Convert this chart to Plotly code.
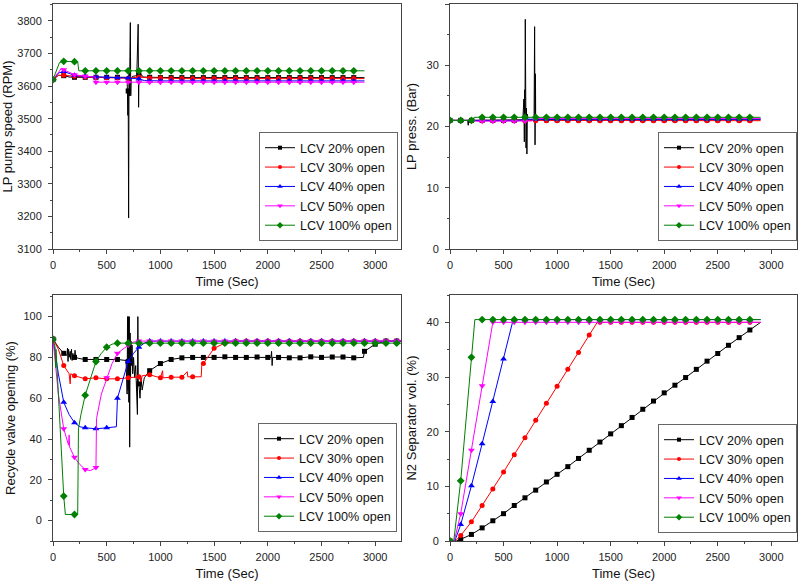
import plotly.graph_objects as go

FONT = "Arial, 'Liberation Sans', sans-serif"

series_names = ["LCV 20% open", "LCV 30% open", "LCV 40% open", "LCV 50% open", "LCV 100% open"]
colors = ["#000000", "#FF0000", "#0000FF", "#FF00FF", "#008000"]
symbols = ["square", "circle", "triangle-up", "triangle-down", "diamond"]
msizes = [5, 5, 6, 6, 6]

# ---------------- sampling times (sec) ----------------
time_a = [0, 100, 200, 300, 400, 500, 600, 700, 800, 900, 1000, 1100, 1200, 1300, 1400,
          1500, 1600, 1700, 1800, 1900, 2000, 2100, 2200, 2300, 2400, 2500, 2600, 2700, 2800, 2900]
time_c = [0, 100, 200, 300, 400, 500, 600, 700, 800, 900, 1000, 1100, 1200, 1300, 1400,
          1500, 1600, 1700, 1800, 1900, 2000, 2100, 2200, 2300, 2400, 2500, 2600, 2700, 2800, 2900,
          3000, 3100, 3200]

# ---------------- LP pump speed (RPM) ----------------
speed_20 = [3620, 3632, 3627, 3627, 3627, 3627, 3627, 3585, 3634, 3627, 3626, 3626, 3626, 3626, 3626,
            3626, 3626, 3626, 3626, 3626, 3626, 3626, 3626, 3626, 3626, 3626, 3626, 3626, 3626, 3626]
speed_30 = [3620, 3633, 3630, 3628, 3627, 3626, 3625, 3624, 3628, 3625, 3625, 3623, 3623, 3623, 3623,
            3623, 3623, 3623, 3623, 3623, 3623, 3623, 3623, 3623, 3623, 3623, 3623, 3623, 3623, 3623]
speed_40 = [3620, 3645, 3633, 3630, 3628, 3627, 3626, 3625, 3622, 3616, 3616, 3616, 3616, 3616, 3616,
            3616, 3616, 3616, 3616, 3616, 3616, 3616, 3616, 3616, 3616, 3616, 3616, 3616, 3616, 3616]
speed_50 = [3620, 3650, 3635, 3630, 3612, 3612, 3612, 3612, 3612, 3612, 3612, 3612, 3612, 3612, 3612,
            3612, 3612, 3612, 3612, 3612, 3612, 3612, 3612, 3612, 3612, 3612, 3612, 3612, 3612, 3612]
speed_100 = [3620, 3676, 3675, 3647, 3647, 3647, 3647, 3647, 3647, 3647, 3647, 3647, 3647, 3647, 3647,
             3647, 3647, 3647, 3647, 3647, 3647, 3647, 3647, 3647, 3647, 3647, 3647, 3647, 3647, 3647]
speed_20_t = [50, 150, 690, 697, 704, 708, 712, 716, 720, 724, 728, 740, 780, 793, 797, 810, 840]
speed_20_v = [3633, 3628, 3627, 3510, 3195, 3640, 3570, 3690, 3795, 3570, 3620, 3630, 3632, 3790, 3535, 3640, 3628]
speed_30_t = [50]
speed_30_v = [3633]
speed_40_t = [50, 850]
speed_40_v = [3640, 3617]
speed_50_t = [80, 395]
speed_50_v = [3655, 3628]
speed_100_t = [60, 230, 240]
speed_100_v = [3672, 3675, 3647]

# ---------------- LP pressure (Bar) ----------------
press_20 = [21.0, 21.0, 21.0, 21.0, 21.0, 21.0, 21.0, 21.1, 21.2, 21.1, 21.1, 21.1, 21.1, 21.1, 21.1,
            21.1, 21.1, 21.1, 21.1, 21.1, 21.1, 21.1, 21.1, 21.1, 21.1, 21.1, 21.1, 21.1, 21.1, 21.1]
press_30 = [21.0, 21.0, 21.0, 20.95, 20.95, 20.95, 20.95, 20.95, 20.95, 20.95, 20.95, 20.95, 20.95, 20.95, 20.95,
            20.95, 20.95, 20.95, 20.95, 20.95, 20.95, 20.95, 20.95, 20.95, 20.95, 20.95, 20.95, 20.95, 20.95, 20.95]
press_40 = [21.0, 21.0, 21.0, 21.0, 21.0, 21.0, 21.0, 21.2, 21.2, 21.2, 21.2, 21.2, 21.2, 21.2, 21.2,
            21.2, 21.2, 21.2, 21.2, 21.2, 21.2, 21.2, 21.2, 21.2, 21.2, 21.2, 21.2, 21.2, 21.2, 21.2]
press_50 = [21.0, 21.0, 21.0, 20.85, 20.85, 20.85, 20.85, 20.9, 21.3, 21.3, 21.3, 21.3, 21.3, 21.3, 21.3,
            21.3, 21.3, 21.3, 21.3, 21.3, 21.3, 21.3, 21.3, 21.3, 21.3, 21.3, 21.3, 21.3, 21.3, 21.3]
press_100 = [21.0, 21.0, 21.0, 21.5, 21.5, 21.5, 21.5, 21.5, 21.5, 21.5, 21.5, 21.5, 21.5, 21.5, 21.5,
             21.5, 21.5, 21.5, 21.5, 21.5, 21.5, 21.5, 21.5, 21.5, 21.5, 21.5, 21.5, 21.5, 21.5, 21.5]
press_20_t = [165, 170, 175, 680, 690, 694, 697, 703, 706, 710, 714, 718, 722, 726, 785, 790, 794, 798, 803]
press_20_v = [21.0, 20.2, 21.0, 21.1, 24.5, 17.5, 26.0, 37.5, 19.0, 16.5, 23.0, 15.5, 22.0, 21.1, 21.1, 36.3, 17.0, 28.6, 21.2]
press_30_t = []
press_30_v = []
press_40_t = [650]
press_40_v = [21.0]
press_50_t = [250, 760]
press_50_v = [20.85, 20.9]
press_100_t = [220, 225]
press_100_v = [21.0, 21.5]

# ---------------- Recycle valve opening (%) ----------------
valve_20 = [89, 82, 80, 79, 79, 79, 79, 78, 67, 73.5, 77, 79, 79.8, 80, 80,
            80, 80.3, 80, 80, 80.2, 80, 80, 79.8, 79.8, 80.3, 80, 80.2, 80.2, 79.8, 83,
            86.5, 88, 88]
valve_30 = [89, 76, 71, 69.5, 70, 69.5, 69.5, 70, 70.5, 71.5, 70, 70.3, 70.3, 70.5, 77,
            84.5, 87, 88, 88, 88, 88, 88, 88, 88, 88, 88, 88, 88, 88, 88,
            88, 88, 88]
valve_40 = [89, 58, 48, 45.5, 45, 45.5, 60, 78, 85, 88, 88, 88, 88, 88, 88,
            88, 88, 88, 88, 88, 88, 88, 88, 88, 88, 88, 88, 88, 88, 88,
            88, 88, 88]
valve_50 = [89, 45, 31, 25, 26, 70, 82, 86, 88, 88, 88, 88, 88, 88, 88,
            88, 88, 88, 88, 88, 88, 88, 88, 88, 88, 88, 88, 88, 88, 88,
            88, 88, 88]
valve_100 = [89, 12, 3, 61.5, 78, 85, 87, 87, 87, 87, 87, 87, 87, 87, 87,
             87, 87, 87, 87, 87, 87, 87, 87, 87, 87, 87, 87, 87, 87, 87,
             87, 87, 87]
valve_20_t = [50, 130, 135, 140, 145, 150, 160, 165, 172, 178, 185, 195, 205, 212, 240,
              680, 690, 694, 698, 702, 706, 710, 714, 718, 722, 726, 730, 736, 742, 750, 760, 770, 780, 786, 790, 794,
              810, 820, 830, 850, 2030, 2035, 2040, 2045, 2890, 3240]
valve_20_v = [85, 81, 84.5, 78, 84, 80, 83, 79, 84, 78.5, 82, 79.5, 83.5, 80, 79.5,
              78.5, 62, 100, 64, 100, 58, 100, 36, 92, 70, 88, 76, 86, 72, 80, 70, 76, 64, 52, 100, 66,
              60, 70, 64, 70, 80, 83, 76, 80, 80, 88]
valve_30_t = [50, 150, 160, 165, 820, 830, 1020, 1025, 1250, 1255, 1380, 1385, 3240]
valve_30_v = [84, 72, 67, 72, 68, 71, 73.5, 70, 73, 70.5, 70.5, 76, 88]
valve_40_t = [50, 150, 250, 590, 750, 850, 3240]
valve_40_v = [72, 52, 46, 46, 82, 87, 88]
valve_50_t = [50, 145, 150, 155, 250, 350, 405, 450, 550, 650, 750, 3240]
valve_50_v = [62, 37, 42, 36, 27.5, 24.5, 50, 62, 77, 84, 87.5, 88]
valve_100_t = [20, 25, 28, 115, 230, 237, 260, 350, 450, 550, 3240]
valve_100_v = [85, 75, 84, 3, 3, 45, 52, 70, 82, 86.5, 87]

# ---------------- N2 separator volume (%) ----------------
vol_20 = [0, 0.3, 1.2, 2.4, 3.7, 5.0, 6.5, 7.9, 9.3, 10.8, 12.2, 13.6, 15.1, 16.6, 18.1,
          19.6, 21.1, 22.6, 24.1, 25.6, 27.1, 28.5, 29.9, 31.4, 32.9, 34.3, 35.8, 37.2, 38.6, 40.0]
vol_30 = [0, 1.0, 3.5, 6.5, 9.5, 12.6, 15.8, 18.9, 22.1, 25.2, 28.3, 31.4, 34.5, 37.7, 40.0,
          40.0, 40.0, 40.0, 40.0, 40.0, 40.0, 40.0, 40.0, 40.0, 40.0, 40.0, 40.0, 40.0, 40.0, 40.0]
vol_40 = [0, 3.0, 10.1, 17.8, 25.5, 33.3, 40.5, 40.5, 40.5, 40.5, 40.5, 40.5, 40.5, 40.5, 40.5,
          40.5, 40.5, 40.5, 40.5, 40.5, 40.5, 40.5, 40.5, 40.5, 40.5, 40.5, 40.5, 40.5, 40.5, 40.5]
vol_50 = [0, 5.0, 16.6, 28.4, 40.0, 40.0, 40.0, 40.0, 40.0, 40.0, 40.0, 40.0, 40.0, 40.0, 40.0,
          40.0, 40.0, 40.0, 40.0, 40.0, 40.0, 40.0, 40.0, 40.0, 40.0, 40.0, 40.0, 40.0, 40.0, 40.0]
vol_100 = [0, 11.0, 33.6, 40.5, 40.5, 40.5, 40.5, 40.5, 40.5, 40.5, 40.5, 40.5, 40.5, 40.5, 40.5,
           40.5, 40.5, 40.5, 40.5, 40.5, 40.5, 40.5, 40.5, 40.5, 40.5, 40.5, 40.5, 40.5, 40.5, 40.5]
vol_20_t = [60]
vol_20_v = [0]
vol_30_t = [50, 1375]
vol_30_v = [0, 40.0]
vol_40_t = [45, 590]
vol_40_v = [0, 40.5]
vol_50_t = [40]
vol_50_v = [0]
vol_100_t = [35, 232]
vol_100_v = [0, 40.5]

# ---------------- figure ----------------
fig = go.Figure()


def add_panel(n, grid_t, values, extras_t, extras_v, marker_max):
    ax = "" if n == 1 else str(n)
    for i in range(5):
        vals = values[i]
        pts = sorted(list(zip(grid_t, vals)) + list(zip(extras_t[i], extras_v[i])), key=lambda p: p[0])
        fig.add_trace(go.Scatter(
            x=[p[0] for p in pts], y=[p[1] for p in pts], mode="lines",
            line=dict(color=colors[i], width=1), xaxis="x" + ax, yaxis="y" + ax,
            showlegend=False, hoverinfo="skip"))
        mt = [t for t in grid_t if t <= marker_max]
        mv = [v for t, v in zip(grid_t, vals) if t <= marker_max]
        fig.add_trace(go.Scatter(
            x=mt, y=mv, mode="markers",
            marker=dict(symbol=symbols[i], color=colors[i], size=msizes[i], line=dict(width=0)),
            xaxis="x" + ax, yaxis="y" + ax, showlegend=False, hoverinfo="skip"))
    for i in range(5):
        fig.add_trace(go.Scatter(
            x=[None], y=[None], mode="lines+markers", name=series_names[i],
            line=dict(color=colors[i], width=1),
            marker=dict(symbol=symbols[i], color=colors[i], size=msizes[i] - 1, line=dict(width=0)),
            xaxis="x" + ax, yaxis="y" + ax, legend="legend" + ax, showlegend=True))


add_panel(1, time_a, [speed_20, speed_30, speed_40, speed_50, speed_100],
          [speed_20_t, speed_30_t, speed_40_t, speed_50_t, speed_100_t],
          [speed_20_v, speed_30_v, speed_40_v, speed_50_v, speed_100_v], 2800)
add_panel(2, time_a, [press_20, press_30, press_40, press_50, press_100],
          [press_20_t, press_30_t, press_40_t, press_50_t, press_100_t],
          [press_20_v, press_30_v, press_40_v, press_50_v, press_100_v], 2800)
add_panel(3, time_c, [valve_20, valve_30, valve_40, valve_50, valve_100],
          [valve_20_t, valve_30_t, valve_40_t, valve_50_t, valve_100_t],
          [valve_20_v, valve_30_v, valve_40_v, valve_50_v, valve_100_v], 3200)
add_panel(4, time_a, [vol_20, vol_30, vol_40, vol_50, vol_100],
          [vol_20_t, vol_30_t, vol_40_t, vol_50_t, vol_100_t],
          [vol_20_v, vol_30_v, vol_40_v, vol_50_v, vol_100_v], 2800)

AX = "#444444"


def xstyle(domain, anchor):
    return dict(domain=domain, anchor=anchor, range=[0, 3240], tick0=0, dtick=500,
                ticks="outside", ticklen=4, tickwidth=1, tickcolor=AX,
                showline=True, linecolor=AX, linewidth=1, mirror=True,
                showgrid=False, zeroline=False, automargin=False,
                minor=dict(ticks="outside", ticklen=2, dtick=250, tick0=0, tickcolor=AX, showgrid=False),
                tickfont=dict(size=11, color="#222", family=FONT), ticklabelstandoff=2,
                title=dict(text="Time (Sec)", font=dict(size=13, color="#111", family=FONT), standoff=6))


def ystyle(domain, anchor, rng, dtick, minor, title, standoff):
    return dict(domain=domain, anchor=anchor, range=rng, tick0=0, dtick=dtick,
                ticks="outside", ticklen=4, tickwidth=1, tickcolor=AX,
                showline=True, linecolor=AX, linewidth=1, mirror=True,
                showgrid=False, zeroline=False, automargin=False,
                minor=dict(ticks="outside", ticklen=2, dtick=minor, tick0=0, tickcolor=AX, showgrid=False),
                tickfont=dict(size=11, color="#222", family=FONT), ticklabelstandoff=4,
                title=dict(text=title, font=dict(size=13, color="#111", family=FONT), standoff=standoff))


XL = [53 / 800, 401 / 800]
XR = [450 / 800, 797 / 800]
YT = [1 - 249 / 582, 1 - 4 / 582]
YB = [1 - 541 / 582, 1 - 295 / 582]


def legend_style(x, y):
    return dict(x=x, y=y, xanchor="right", yanchor="bottom", bgcolor="white",
                bordercolor="#666666", borderwidth=1, itemwidth=30, tracegroupgap=0,
                font=dict(size=12.6, family=FONT, color="#111"))


fig.update_layout(
    width=800, height=582, margin=dict(l=0, r=0, t=0, b=0, autoexpand=False),
    paper_bgcolor="white", plot_bgcolor="white",
    font=dict(family=FONT),
    xaxis=xstyle(XL, "y"), yaxis=ystyle(YT, "x", [3100, 3852], 100, 50, "LP pump speed (RPM)", 3),
    xaxis2=xstyle(XR, "y2"), yaxis2=ystyle(YT, "x2", [0, 40], 10, 5, "LP press. (Bar)", 6),
    xaxis3=xstyle(XL, "y3"), yaxis3=ystyle(YB, "x3", [-10, 110.6], 20, 10, "Recycle valve opening (%)", 4),
    xaxis4=xstyle(XR, "y4"), yaxis4=ystyle(YB, "x4", [0, 45], 10, 5, "N2 Separator vol. (%)", 6),
    legend=legend_style(398 / 800, 1 - 241 / 582),
    legend2=legend_style(797 / 800, 1 - 241 / 582),
    legend3=legend_style(397 / 800, 1 - 532 / 582),
    legend4=legend_style(797 / 800, 1 - 533 / 582),
    showlegend=True,
)

fig.write_html("out.html", config={"displayModeBar": False},
               post_script="document.body.style.margin='0';document.body.style.overflow='hidden';")
